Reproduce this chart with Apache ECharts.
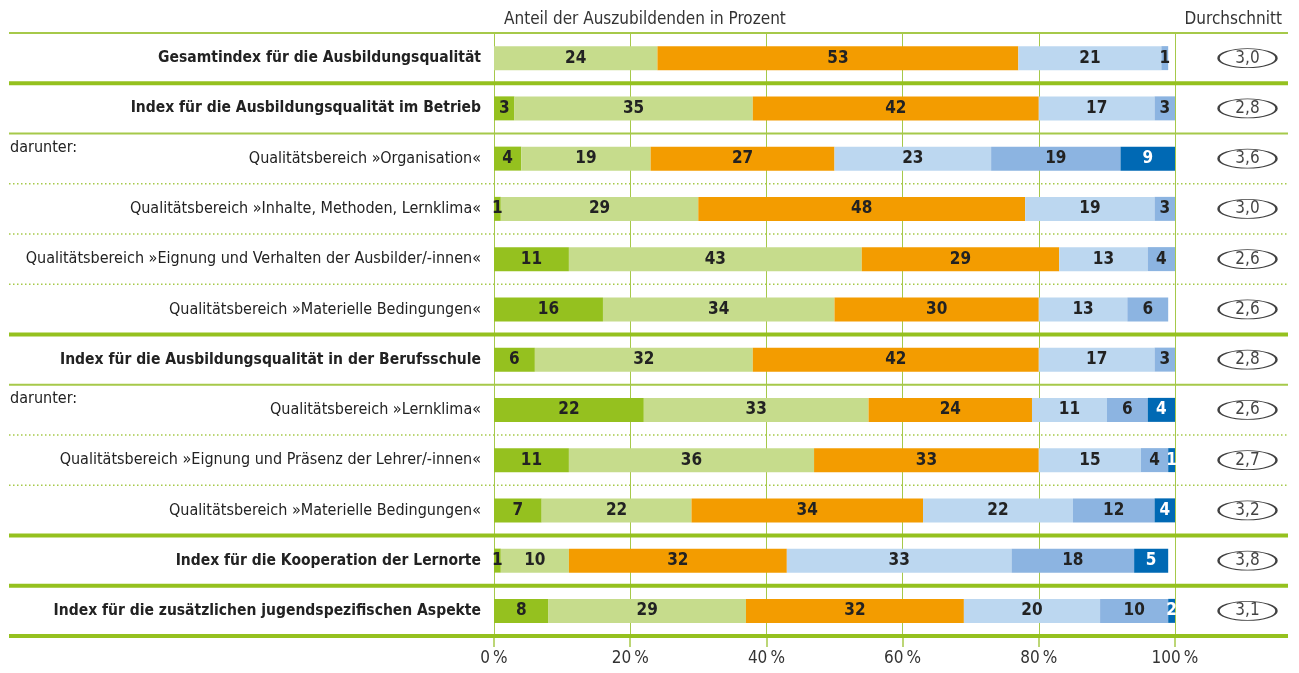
<!DOCTYPE html>
<html>
<head>
<meta charset="utf-8">
<script src="https://cdn.jsdelivr.net/npm/echarts@6/dist/echarts.min.js"></script>
<style>
  html, body, #main { width: 100%; height: 100%; margin: 0; background: #fff; }
</style>
</head>
<body>
<div id="main"></div>
<script>
var categories = [
  'Gesamtindex für die Ausbildungsqualität',
  'Index für die Ausbildungsqualität im Betrieb',
  'Qualitätsbereich »Organisation«',
  'Qualitätsbereich »Inhalte, Methoden, Lernklima«',
  'Qualitätsbereich »Eignung und Verhalten der Ausbilder/-innen«',
  'Qualitätsbereich »Materielle Bedingungen«',
  'Index für die Ausbildungsqualität in der Berufsschule',
  'Qualitätsbereich »Lernklima«',
  'Qualitätsbereich »Eignung und Präsenz der Lehrer/-innen«',
  'Qualitätsbereich »Materielle Bedingungen« ',
  'Index für die Kooperation der Lernorte',
  'Index für die zusätzlichen jugendspezifischen Aspekte'
];
var boldRows = [0, 1, 6, 10, 11];
var subRows = [2, 7]; // rows with "darunter:"

var darkGreen  = [0, 3, 4, 1, 11, 16, 6, 22, 11, 7, 1, 8];
var lightGreen = [24, 35, 19, 29, 43, 34, 32, 33, 36, 22, 10, 29];
var orange     = [53, 42, 27, 48, 29, 30, 42, 24, 33, 34, 32, 32];
var lightBlue  = [21, 17, 23, 19, 13, 13, 17, 11, 15, 22, 33, 20];
var midBlue    = [1, 3, 19, 3, 4, 6, 3, 6, 4, 12, 18, 10];
var darkBlue   = [0, 0, 9, 0, 0, 0, 0, 4, 1, 4, 5, 2];
var averages   = [3.0, 2.8, 3.6, 3.0, 2.6, 2.6, 2.8, 2.6, 2.7, 3.2, 3.8, 3.1];

// separator line at each row boundary (index 0 = top)
var sepStyles = ['thin', 'thick', 'thin', 'dot', 'dot', 'dot', 'thick', 'thin', 'dot', 'dot', 'thick', 'thick', 'thick'];

var FONT = "'Liberation Sans Narrow', 'DejaVu Sans Condensed', sans-serif";
var GREEN = '#95c11f';
var LINE = '#a6c94a';

var chart = echarts.init(document.getElementById('main'));

function segment(name, data, color, labelColor) {
  return {
    name: name,
    type: 'bar',
    stack: 'total',
    barWidth: 24,
    data: data,
    itemStyle: { color: color },
    label: {
      show: true,
      position: 'inside',
      color: labelColor,
      fontFamily: FONT,
      fontWeight: 'bold',
      fontSize: 17,
      formatter: function (p) { return p.value ? p.value : ''; }
    },
    z: 3
  };
}

var option = {
  animation: false,
  textStyle: { fontFamily: FONT },
  title: [
    { text: 'Anteil der Auszubildenden in Prozent', left: 499, top: 6,
      textStyle: { fontFamily: FONT, fontSize: 17, fontWeight: 'normal', color: '#333' } },
    { text: 'Durchschnitt', right: 12, top: 6,
      textStyle: { fontFamily: FONT, fontSize: 17, fontWeight: 'normal', color: '#333' } }
  ],
  grid: [
    { left: 494, right: 124, top: 33, bottom: 37, outerBoundsMode: 'none', containLabel: false },
    { left: 1205, right: 9, top: 33, bottom: 37, outerBoundsMode: 'none', containLabel: false }
  ],
  xAxis: [{
    type: 'value', min: 0, max: 100, interval: 20, position: 'bottom',
    axisLine: { show: true, lineStyle: { color: LINE, width: 1 } },
    axisTick: { show: true, inside: false, length: 11, lineStyle: { color: LINE, width: 1.5 } },
    axisLabel: { formatter: '{value}\u2009%', color: '#333', fontSize: 17, fontFamily: FONT, margin: 14 },
    splitLine: { show: true, lineStyle: { color: LINE, width: 1 } }
  }, {
    gridIndex: 1, type: 'value', min: 0, max: 1, show: false
  }],
  yAxis: [{
    type: 'category', data: categories, inverse: true,
    axisLine: { show: false }, axisTick: { show: false },
    axisLabel: {
      margin: 13,
      formatter: function (v, i) {
        return boldRows.indexOf(i) >= 0 ? '{b|' + v.trim() + '}' : '{n|' + v.trim() + '}';
      },
      rich: {
        b: { fontFamily: FONT, fontSize: 15.5, fontWeight: 'bold', color: '#222' },
        n: { fontFamily: FONT, fontSize: 16, color: '#222' }
      }
    }
  }, {
    gridIndex: 1, type: 'category', data: categories, inverse: true, show: false
  }],
  series: [
    segment('Stufe 1', darkGreen, '#95c11f', '#222'),
    segment('Stufe 2', lightGreen, '#c6dc8c', '#222'),
    segment('Stufe 3', orange, '#f39c00', '#222'),
    segment('Stufe 4', lightBlue, '#bcd7f0', '#222'),
    segment('Stufe 5', midBlue, '#8cb4e1', '#222'),
    segment('Stufe 6', darkBlue, '#0069b4', '#fff'),
    {
      name: 'Durchschnitt',
      type: 'scatter',
      xAxisIndex: 1, yAxisIndex: 1,
      symbol: 'path://M0,10 A20,10 0 1,1 40,10 A20,10 0 1,1 0,10 Z',
      symbolKeepAspect: false,
      symbolSize: [58, 19],
      itemStyle: { color: 'rgba(255,255,255,0)', borderColor: '#111', borderWidth: 1.4 },
      data: averages.map(function (v, i) { return [0.5, i, v]; }),
      label: {
        show: true, position: 'inside', color: '#111', fontFamily: FONT, fontSize: 17,
        formatter: function (p) { return p.value[2].toFixed(1).replace('.', ','); }
      }
    }
  ]
};
chart.setOption(option);

// separators and "darunter:" notes, placed from the category scale
var centers = categories.map(function (c, i) {
  return chart.convertToPixel({ yAxisIndex: 0 }, i);
});
var half = (centers[1] - centers[0]) / 2;
var graphics = [];
sepStyles.forEach(function (s, i) {
  var y = i < centers.length ? centers[i] - half : centers[centers.length - 1] + half;
  var style = { stroke: LINE, lineWidth: 2 };
  if (s === 'thick') style = { stroke: GREEN, lineWidth: 4 };
  if (s === 'dot') style = { stroke: LINE, lineWidth: 1.5, lineDash: [1.5, 2.5] };
  graphics.push({ type: 'line', shape: { x1: 9, y1: y, x2: 1288, y2: y }, style: style, z: 10 });
});
subRows.forEach(function (r) {
  graphics.push({
    type: 'text', x: 10, y: centers[r] - half + 14,
    style: { text: 'darunter:', fill: '#222', font: '16px ' + FONT, verticalAlign: 'middle' },
    z: 10
  });
});
chart.setOption({ graphic: graphics });

window.onresize = chart.resize;
</script>
</body>
</html>
